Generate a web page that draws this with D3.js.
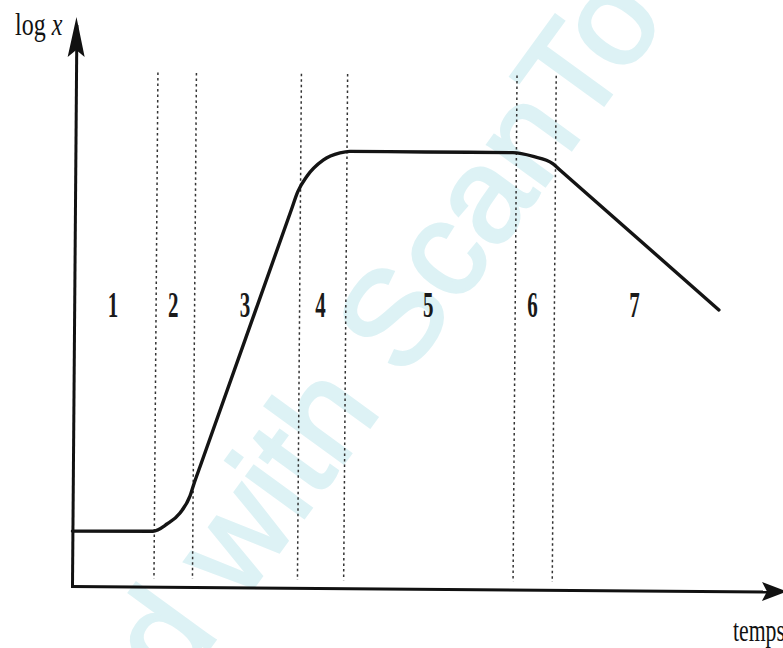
<!DOCTYPE html>
<html>
<head>
<meta charset="utf-8">
<script src="https://cdn.jsdelivr.net/npm/d3@7"></script>
<style>
  html, body { margin: 0; padding: 0; background: #fff; overflow: hidden; }
  svg { display: block; }
</style>
</head>
<body>
<svg id="chart" width="783" height="648"></svg>
<script>
// Bacterial growth curve: log of the population against time, split into 7 phases.

// sampled curve (time in arbitrary units, log x in arbitrary units)
const time     = [0, 11.5, 13.5, 15.35, 16.75, 17.3, 18.2, 30.9, 31.8, 33.1, 35.4, 37.8, 39.2, 50, 62.5, 65.4, 68.2, 69.4, 92.1];
const logCount = [0.98, 0.99, 1.12, 1.32, 1.62, 1.84, 2.165, 6.745, 7.07, 7.35, 7.64, 7.77, 7.80, 7.80, 7.80, 7.735, 7.61, 7.48, 5.02];

// times separating the phases (dashed lines)
const phaseBounds = [11.7, 17.2, 32.2, 38.8, 63.0, 68.6];
const phaseNames  = ["1", "2", "3", "4", "5", "6", "7"];

const yTitle = "log ";
const yTitleVar = "x";
const xTitle = "temps";
const watermark = "Scanned with ScanTo";

const svg = d3.select("#chart");
const origin = { x: 72, y: 586 };

const x = d3.scaleLinear().domain([0, 100]).range([origin.x, 772]);
const y = d3.scaleLinear().domain([0, 10]).range([origin.y, 26]);

// faint diagonal watermark behind everything
const wm = svg.append("text")
  .attr("font-family", "Liberation Sans, Arial, sans-serif")
  .attr("font-size", 134)
  .attr("fill", "#ddf2f5")
  .attr("stroke", "#ddf2f5")
  .attr("stroke-width", 3)
  .text(watermark);
{
  const idx = watermark.lastIndexOf("Scan");
  const off = wm.node().getSubStringLength(0, idx);
  const a = -54 * Math.PI / 180;
  const tx = 404 - off * Math.cos(a);
  const ty = 380 - off * Math.sin(a);
  wm.attr("transform", `translate(${tx},${ty}) rotate(-54)`);
}

// the plot frame is very slightly rotated
const g = svg.append("g")
  .attr("transform", `rotate(0.45, ${origin.x}, ${origin.y})`);

// dashed phase separators
g.append("g").selectAll("line")
  .data(phaseBounds)
  .join("line")
  .attr("x1", d => x(d)).attr("x2", d => x(d))
  .attr("y1", y(9.18)).attr("y2", y(0.14))
  .attr("stroke", "#333")
  .attr("stroke-width", 1.5)
  .attr("stroke-dasharray", "2.5 3");

// axes without ticks, drawn as thick arrows
const xAxis = g.append("g")
  .attr("transform", `translate(0,${origin.y})`)
  .call(d3.axisBottom(x).tickValues([]).tickSizeOuter(0));
const yAxis = g.append("g")
  .attr("transform", `translate(${origin.x},0)`)
  .call(d3.axisLeft(y).tickValues([]).tickSizeOuter(0));
[xAxis, yAxis].forEach(a => a.select(".domain")
  .attr("stroke", "#111").attr("stroke-width", 3).attr("stroke-linecap", "square"));

const xEnd = x.range()[1];
const yEnd = y.range()[1];
g.append("path")
  .attr("d", `M${xEnd + 15},${origin.y} L${xEnd - 10},${origin.y - 9.5} L${xEnd - 5},${origin.y} L${xEnd - 10},${origin.y + 9.5} Z`)
  .attr("fill", "#111");
g.append("path")
  .attr("d", `M${origin.x},${yEnd - 9} L${origin.x - 8.5},${yEnd + 31} L${origin.x},${yEnd + 24} L${origin.x + 8.5},${yEnd + 31} Z`)
  .attr("fill", "#111");

// growth curve
const pts = time.map((t, i) => [t, logCount[i]]);
g.append("path")
  .datum(pts)
  .attr("fill", "none")
  .attr("stroke", "#141414")
  .attr("stroke-width", 3.4)
  .attr("stroke-linejoin", "round")
  .attr("stroke-linecap", "round")
  .attr("d", d3.line().x(d => x(d[0])).y(d => y(d[1])).curve(d3.curveMonotoneX));

// phase numbers, centred in each phase
const edges = [time[0], ...phaseBounds, time[time.length - 1]];
svg.append("g").selectAll("text")
  .data(phaseNames)
  .join("text")
  .attr("transform", (d, i) => `translate(${x((edges[i] + edges[i + 1]) / 2)},${y(4.8)}) scale(0.6,1)`)
  .attr("text-anchor", "middle")
  .attr("font-family", "Liberation Serif, Times New Roman, serif")
  .attr("font-size", 35)
  .attr("font-weight", "bold")
  .attr("fill", "#1a1a1a")
  .text(d => d);

// axis titles
const yt = svg.append("text")
  .attr("transform", "translate(15,35) scale(0.75,1)")
  .attr("font-family", "Liberation Serif, Times New Roman, serif")
  .attr("font-size", 32)
  .attr("fill", "#111");
yt.append("tspan").text(yTitle);
yt.append("tspan").attr("font-style", "italic").text(yTitleVar);

svg.append("text")
  .attr("transform", "translate(733,641) scale(0.68,1)")
  .attr("font-family", "Liberation Serif, Times New Roman, serif")
  .attr("font-size", 32)
  .attr("fill", "#111")
  .text(xTitle);
</script>
</body>
</html>
